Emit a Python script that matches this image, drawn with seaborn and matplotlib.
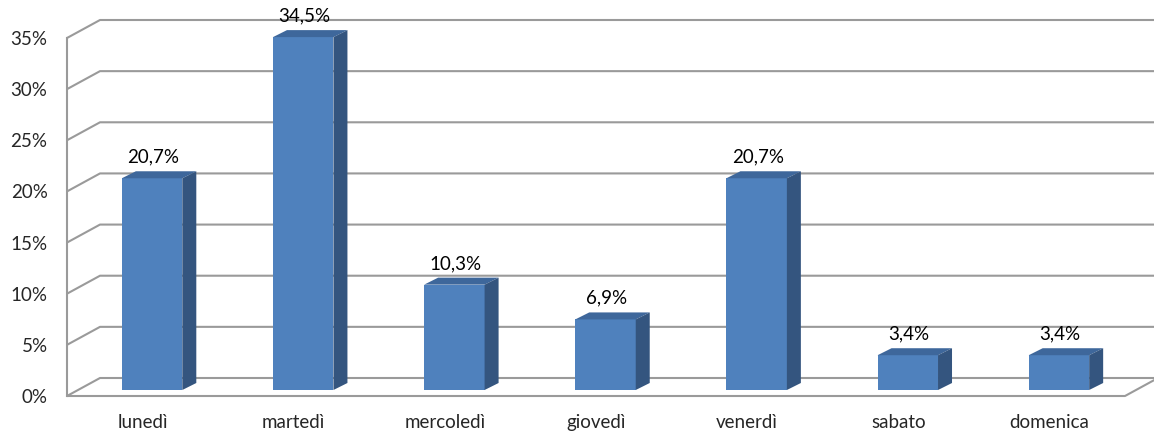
import numpy as np
import matplotlib
matplotlib.use('Agg')
import matplotlib.pyplot as plt
from matplotlib.patches import Polygon
import seaborn as sns


# dati
giorni = ['lunedì', 'martedì', 'mercoledì', 'giovedì', 'venerdì', 'sabato', 'domenica']
valori = [20.7, 34.5, 10.3, 6.9, 20.7, 3.4, 3.4]
ticks_y = [0, 5, 10, 15, 20, 25, 30, 35]

# colori
col_front = '#4f81bd'
col_top = '#3e679b'
col_side = '#34557f'
col_grid = '#9a9a9a'


sns.set_style('white')
plt.rcParams['font.family'] = ['Lato', 'DejaVu Sans']

W, H = 1154, 438
fig = plt.figure(figsize=(W / 100, H / 100), dpi=100)
ax = fig.add_axes([67 / W, 42 / H, 1058 / W, 358 / H])

ax.set_xlim(-0.5, 6.5)
ax.set_ylim(0, 35)

# pixel -> data units
PX = 7 / 1058
PY = 35 / 358

# offsets for the fake 3d look
bx, by = 33 * PX, 18 * PY      # back wall
ox, oy = 9.5 * PX, 6 * PY      # bar front plane
dx, dy = 14 * PX, 7 * PY       # bar depth

# side wall + back wall gridlines
x_right = -0.5 + (W - 67) * PX
for t in ticks_y:
    ax.plot([-0.5, -0.5 + bx, x_right], [t, t + by, t + by],
            color=col_grid, lw=1.5, clip_on=False, zorder=0.5)

# floor
ax.plot([-0.5, 6.5, 6.5 + bx], [0, 0, by], color=col_grid, lw=1.5,
        clip_on=False, zorder=0.5)

# bars
sns.barplot(x=giorni, y=valori, color=col_front, saturation=1, width=0.4,
            ax=ax, zorder=2)

fs = 13.5
for p, v in zip(ax.patches, valori):
    x0 = p.get_x() + ox
    w = p.get_width()
    p.set_x(x0)
    p.set_y(oy)
    p.set_edgecolor('none')
    p.set_clip_on(False)
    top = oy + v
    ax.add_patch(Polygon([(x0, top), (x0 + dx, top + dy), (x0 + w + dx, top + dy), (x0 + w, top)],
                         closed=True, facecolor=col_top, edgecolor='none', zorder=2, clip_on=False))
    ax.add_patch(Polygon([(x0 + w, oy), (x0 + w + dx, oy + dy), (x0 + w + dx, top + dy), (x0 + w, top)],
                         closed=True, facecolor=col_side, edgecolor='none', zorder=2, clip_on=False))
    ax.annotate(f"{v:.1f}".replace('.', ',') + '%', (x0 + w / 2 + 1 * PX, top + dy),
                xytext=(0, 4), textcoords='offset points', ha='center', va='bottom',
                fontsize=fs, color='black', zorder=3, annotation_clip=False)

# assi
for s in ['top', 'right', 'bottom']:
    ax.spines[s].set_visible(False)
ax.spines['left'].set_color(col_grid)
ax.spines['left'].set_linewidth(1.5)

ax.set_yticks(ticks_y)
ax.set_yticklabels([f'{t}%' for t in ticks_y])
ax.tick_params(axis='y', length=4, width=1.5, color=col_grid, pad=10, labelsize=fs)
ax.tick_params(axis='x', length=0, pad=13, labelsize=fs)
ax.set_xlabel('')
ax.set_ylabel('')

fig.savefig('out.png', dpi=100)
